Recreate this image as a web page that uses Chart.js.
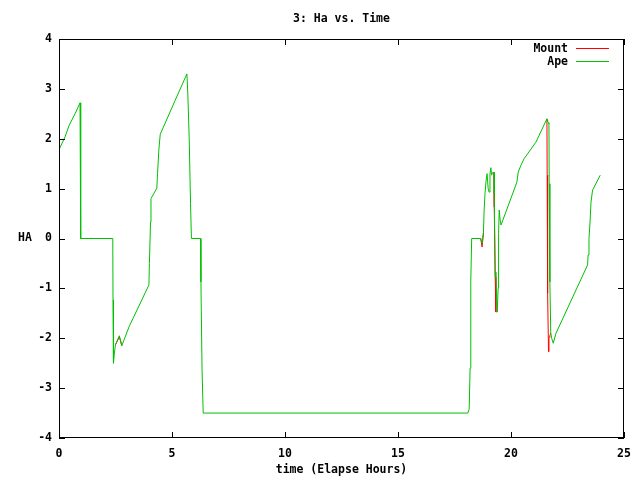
<!DOCTYPE html>
<html><head><meta charset="utf-8">
<script src="https://cdn.jsdelivr.net/npm/chart.js@4"></script>
<style>html,body{margin:0;padding:0;background:#fff}canvas{display:block}</style>
</head><body>
<canvas id="c" width="640" height="480"></canvas>
<script>
const timeHours = [0,0.27,0.45,0.71,0.93,0.95,0.97,2.38,2.39,2.41,2.45,2.50,2.67,2.78,3.10,3.98,4.00,4.05,4.07,4.33,4.36,4.42,4.48,5.14,5.66,5.70,5.76,5.82,5.86,6.26,6.28,6.33,6.38,18.09,18.15,18.19,18.22,18.26,18.66,18.72,18.78,18.81,18.85,18.90,18.94,18.99,19.03,19.07,19.11,19.14,19.18,19.25,19.26,19.30,19.33,19.36,19.39,19.43,19.45,19.48,19.52,19.56,20.26,20.32,20.44,20.58,21.10,21.59,21.60,21.62,21.66,21.68,21.69,21.72,21.76,21.80,21.87,21.99,23.39,23.41,23.45,23.50,23.54,23.61,23.95];
const apeHA = [1.78,2.04,2.27,2.50,2.72,1.37,0,0,-1.23,-2.50,-2.30,-2.13,-1.95,-2.15,-1.77,-0.93,-0.50,0.33,0.80,1.01,1.30,1.79,2.09,2.77,3.30,2.90,2.03,0.70,0,0,-0.87,-2.63,-3.50,-3.50,-3.42,-2.60,-0.87,0,0,-0.10,0.11,0.55,0.90,1.17,1.30,1.00,0.93,1.30,1.42,1.27,1.32,1.32,0.90,-0.77,-0.67,-1.17,-1.47,-1.00,0.10,0.57,0.37,0.27,1.13,1.33,1.47,1.60,1.93,2.40,2.38,2.35,2.32,2.30,1.10,-0.87,-1.90,-2.00,-2.10,-1.90,-0.53,-0.33,0,0.35,0.73,0.97,1.27];
const mountHA = [1.78,2.04,2.27,2.50,2.72,1.37,0,0,-1.23,-2.50,-2.30,-2.13,-1.97,-2.15,-1.77,-0.93,-0.50,0.33,0.80,1.01,1.30,1.79,2.09,2.77,3.30,2.90,2.03,0.70,0,0,-0.87,-2.63,-3.50,-3.50,-3.42,-2.60,-0.87,0,0,-0.17,0.11,0.55,0.90,1.17,1.30,1.00,0.93,1.30,1.42,1.27,1.32,1.32,0.63,-0.77,-1.47,-1.47,-1.47,-1.00,0.10,0.57,0.37,0.27,1.13,1.33,1.47,1.60,1.93,2.40,1.27,-1.10,-2.27,-2.00,-1.98,-1.95,-1.90,-2.00,-2.10,-1.90,-0.53,-0.33,0,0.35,0.73,0.97,1.27];
const xTicks = [0,5,10,15,20,25];
const yTicks = [-4,-3,-2,-1,0,1,2,3,4];
const chartTitle = '3: Ha vs. Time';
const xTitle = 'time (Elapse Hours)';
const yTitle = 'HA';
const seriesNames = ['Mount','Ape'];
const seriesColors = ['#ff0000','#00c000'];

const FAM = '"DejaVu Sans Mono", "Liberation Mono", monospace';
const FSIZE = 11.5;
const FONT = 'bold ' + FSIZE + 'px ' + FAM;

function pts(ys){ return timeHours.map((t,i)=>({x:t,y:ys[i]})); }
// Mount is drawn underneath Ape; where the two coincide the red segment is fully covered
function hiddenUnderApe(c){
  const a = c.p0DataIndex, b = c.p1DataIndex;
  return (mountHA[a]===apeHA[a] && mountHA[b]===apeHA[b]) ? 'rgba(0,0,0,0)' : undefined;
}

const gnuplotDeco = {
  id:'gnuplotDeco',
  afterDraw(chart){
    const ctx = chart.ctx, a = chart.chartArea;
    const xs = chart.scales.x, ys = chart.scales.y;
    ctx.save();
    ctx.strokeStyle = '#000'; ctx.lineWidth = 1;
    ctx.strokeRect(a.left+0.5, a.top+0.5, a.right-a.left-1, a.bottom-a.top-1);
    const TL = 6;
    ctx.beginPath();
    xTicks.forEach(v=>{
      const px = Math.round(xs.getPixelForValue(v))+0.5;
      ctx.moveTo(px, a.bottom); ctx.lineTo(px, a.bottom-TL);
      ctx.moveTo(px, a.top); ctx.lineTo(px, a.top+TL);
    });
    yTicks.forEach(v=>{
      const py = Math.round(ys.getPixelForValue(v))+0.5;
      ctx.moveTo(a.left, py); ctx.lineTo(a.left+TL, py);
      ctx.moveTo(a.right, py); ctx.lineTo(a.right-TL, py);
    });
    ctx.stroke();
    ctx.fillStyle = '#000'; ctx.font = FONT;
    ctx.textBaseline = 'middle'; ctx.textAlign = 'center';
    ctx.fillText(chartTitle, (a.left+a.right)/2, 19);
    ctx.fillText(xTitle, (a.left+a.right)/2, 470);
    ctx.fillText(yTitle, 25, (a.top+a.bottom)/2);
    ctx.textAlign = 'right';
    seriesNames.forEach((n,i)=>{
      const y = 48 + i*13;
      ctx.fillStyle = '#000';
      ctx.fillText(n, 568, y+1);
      ctx.strokeStyle = seriesColors[i];
      ctx.lineWidth = 1;
      ctx.beginPath(); ctx.moveTo(576, y+0.5); ctx.lineTo(609, y+0.5); ctx.stroke();
    });
    ctx.restore();
  }
};

new Chart(document.getElementById('c'), {
  type:'line',
  data:{ datasets:[
    {label:seriesNames[0], data:pts(mountHA), borderColor:seriesColors[0], borderWidth:1, pointRadius:0, tension:0, fill:false, order:1,
     segment:{borderColor:hiddenUnderApe}},
    {label:seriesNames[1], data:pts(apeHA), borderColor:seriesColors[1], borderWidth:1, pointRadius:0, tension:0, fill:false, order:0}
  ]},
  options:{
    responsive:false, animation:false, events:[],
    layout:{padding:{top:39,right:16,bottom:0,left:0}},
    plugins:{legend:{display:false}, tooltip:{enabled:false}, title:{display:false}},
    scales:{
      x:{type:'linear', min:0, max:25,
         grid:{display:false, drawTicks:false}, border:{display:false},
         afterBuildTicks(s){ s.ticks = xTicks.map(v=>({value:v})); },
         afterFit(s){ s.height = 42; },
         ticks:{padding:9, color:'#000', maxRotation:0, autoSkip:false, font:{family:FAM, size:FSIZE, weight:'bold'}}},
      y:{type:'linear', min:-4, max:4,
         grid:{display:false, drawTicks:false}, border:{display:false},
         afterBuildTicks(s){ s.ticks = yTicks.map(v=>({value:v})); },
         afterFit(s){ s.width = 59; },
         ticks:{padding:7, color:'#000', autoSkip:false, font:{family:FAM, size:FSIZE, weight:'bold'}}}
    }
  },
  plugins:[gnuplotDeco]
});
</script>
</body></html>
